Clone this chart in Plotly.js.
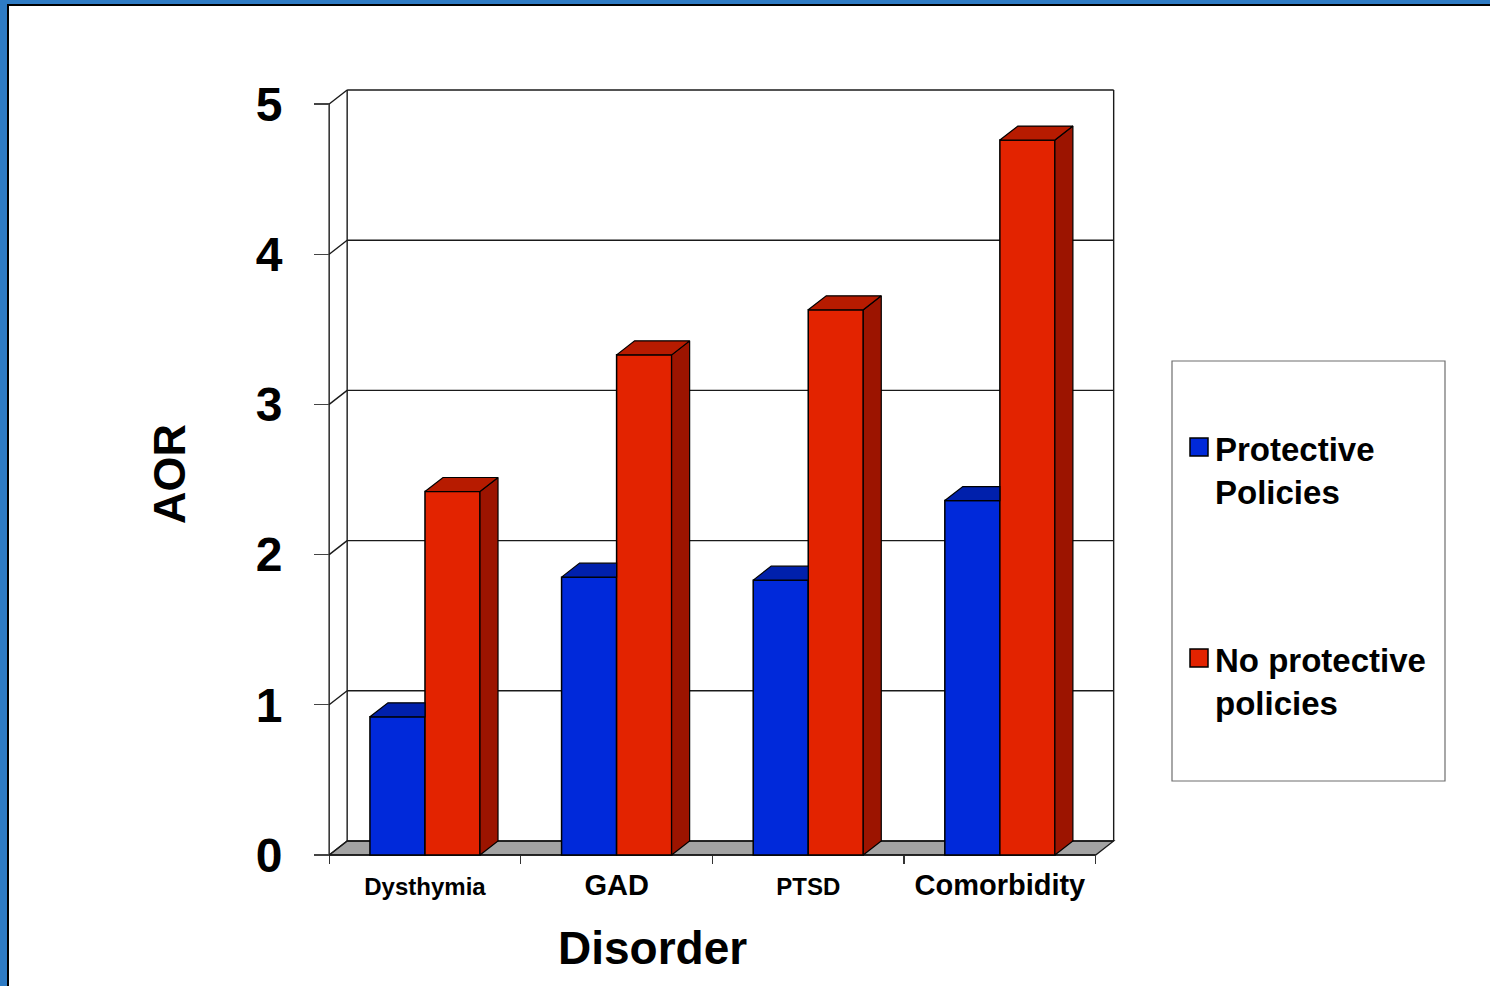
<!DOCTYPE html>
<html>
<head>
<meta charset="utf-8">
<script src="https://cdn.plot.ly/plotly-3.0.1.min.js"></script>
<style>html,body{margin:0;padding:0;background:#fff;}#chart{width:1490px;height:986px;}</style>
</head>
<body>
<div id="chart"></div>
<script>
// ---------- data ----------
const categories = ['Dysthymia', 'GAD', 'PTSD', 'Comorbidity'];
const protective = [0.92, 1.85, 1.83, 2.36];
const noProtective = [2.42, 3.33, 3.63, 4.76];
const yTicks = [0, 1, 2, 3, 4, 5];
const seriesNames = ['Protective<br>Policies', 'No protective<br>policies'];
const yTitle = 'AOR';
const xTitle = 'Disorder';

// ---------- styling / geometry ----------
const catLabelSizes = [24, 29, 24, 29];
const FONT = 'Liberation Sans, Arial, Helvetica, sans-serif';
const W = 1490, H = 986;
const ML = 310, MR = 356, MT = 74, MB = 116;
const PW = W - ML - MR, PH = H - MT - MB;
const XR = [-0.6, 3.7], YR = [-0.1, 5.2];
const pxX = PW / (XR[1] - XR[0]), pxY = PH / (YR[1] - YR[0]);
const DX = 18 / pxX, DY = 14 / pxY;      // depth offset of the 3-D look
const BW = 0.2872;                        // bar width (x units)
const X0 = -0.5, X1 = categories.length - 0.5;
const YMAX = yTicks[yTicks.length - 1];

const blueFront = '#0029DA', blueTop = '#0020AC';
const redFront = '#E32300', redTop = '#B71B00', redSide = '#9C1400';
const floorGray = '#A3A3A3', frameCol = '#1a1a1a';

const px2paperX = p => (p - ML) / PW;
const px2paperY = p => (H - MB - p) / PH;

const idx = categories.map((c, i) => i);

// ---------- frame (floor, back wall, grid) as below-layer shapes ----------
const shapes = [];
// page
shapes.push({type: 'rect', xref: 'paper', yref: 'paper', layer: 'below',
  x0: px2paperX(8), x1: px2paperX(1520), y0: px2paperY(1020), y1: px2paperY(5),
  fillcolor: '#ffffff', line: {color: '#000000', width: 2}});
// floor
shapes.push({type: 'path', xref: 'x', yref: 'y', layer: 'below',
  path: `M${X0},0 L${X1},0 L${X1 + DX},${DY} L${X0 + DX},${DY} Z`,
  fillcolor: floorGray, line: {color: frameCol, width: 1.3}});
const seg = (xa, ya, xb, yb) => shapes.push({type: 'line', xref: 'x', yref: 'y', layer: 'below',
  x0: xa, y0: ya, x1: xb, y1: yb, line: {color: frameCol, width: 1.4}});
yTicks.forEach(v => {
  seg(X0 + DX, v + DY, X1 + DX, v + DY);   // back-wall grid line
  seg(X0, v, X0 + DX, v + DY);             // side-wall diagonal
});
seg(X0, 0, X0, YMAX);                      // front value axis
seg(X0 + DX, DY, X0 + DX, YMAX + DY);      // back-wall left edge
seg(X1 + DX, DY, X1 + DX, YMAX + DY);      // back-wall right edge
seg(X0, 0, X1, 0);                         // front floor edge

// legend (manual, to match the boxed legend)
shapes.push({type: 'rect', xref: 'paper', yref: 'paper',
  x0: px2paperX(1172), x1: px2paperX(1445), y0: px2paperY(781), y1: px2paperY(361),
  fillcolor: 'rgba(0,0,0,0)', line: {color: '#6e6e6e', width: 1.2}});
shapes.push({type: 'rect', xref: 'paper', yref: 'paper',
  x0: px2paperX(1190), x1: px2paperX(1208), y0: px2paperY(456), y1: px2paperY(438),
  fillcolor: blueFront, line: {color: '#000', width: 1.5}});
shapes.push({type: 'rect', xref: 'paper', yref: 'paper',
  x0: px2paperX(1190), x1: px2paperX(1208), y0: px2paperY(667), y1: px2paperY(649),
  fillcolor: redFront, line: {color: '#000', width: 1.5}});

// ---------- 3-D faces from the values ----------
function polys(builder, vals) {
  const xs = [], ys = [];
  vals.forEach((v, i) => {
    const p = builder(i, v);
    p.x.forEach((xx, k) => { xs.push(xx); ys.push(p.y[k]); });
    xs.push(null); ys.push(null);
  });
  return {x: xs, y: ys};
}
const redSideP = polys((i, v) => ({
  x: [i + BW, i + BW, i + BW + DX, i + BW + DX, i + BW],
  y: [0, v, v + DY, DY, 0]}), noProtective);
const redTopP = polys((i, v) => ({
  x: [i, i + BW, i + BW + DX, i + DX, i],
  y: [v, v, v + DY, v + DY, v]}), noProtective);
const blueTopP = polys((i, v) => ({
  x: [i - BW, i, i, i - BW + DX, i - BW],
  y: [v, v, v + DY, v + DY, v]}), protective);

const faceTrace = (p, col) => ({type: 'scatter', mode: 'lines', x: p.x, y: p.y,
  fill: 'toself', fillcolor: col, line: {color: '#000', width: 1.2},
  hoverinfo: 'skip', showlegend: false, connectgaps: false});

const traces = [
  {type: 'bar', name: seriesNames[0], x: idx, y: protective, offset: -BW, width: BW,
   marker: {color: blueFront, line: {color: '#000', width: 1.5}}, showlegend: false},
  {type: 'bar', name: seriesNames[1], x: idx, y: noProtective, offset: 0, width: BW,
   marker: {color: redFront, line: {color: '#000', width: 1.5}}, showlegend: false},
  faceTrace(blueTopP, blueTop),
  faceTrace(redSideP, redSide),
  faceTrace(redTopP, redTop)
];

const layout = {
  width: W, height: H,
  margin: {l: ML, r: MR, t: MT, b: MB, pad: 0},
  paper_bgcolor: '#2E7BC4',
  plot_bgcolor: 'rgba(0,0,0,0)',
  barmode: 'overlay',
  showlegend: false,
  font: {family: FONT, color: '#000'},
  xaxis: {
    range: XR, anchor: 'free', position: (0 - YR[0]) / (YR[1] - YR[0]),
    showgrid: false, zeroline: false, showline: false,
    tickmode: 'array', tickvals: idx,
    ticktext: categories.map((c, i) => `<span style="font-size:${catLabelSizes[i]}px">${c}</span>`),
    ticks: '', ticklabelstandoff: 10,
    tickfont: {family: FONT, size: 29, weight: 700, color: '#000'},
    minor: {ticks: 'outside', ticklen: 8, tickwidth: 1.2, tickcolor: '#333',
            tick0: -0.5, dtick: 1, showgrid: false},
    fixedrange: true
  },
  yaxis: {
    range: YR, anchor: 'free', position: (X0 - XR[0]) / (XR[1] - XR[0]),
    showgrid: false, zeroline: false, showline: false,
    tickmode: 'array', tickvals: yTicks, ticktext: yTicks.map(String),
    ticks: 'outside', ticklen: 15, tickwidth: 1.2, tickcolor: '#444',
    ticklabelstandoff: 22,
    tickfont: {family: FONT, size: 48, weight: 700, color: '#000'},
    fixedrange: true
  },
  shapes: shapes,
  annotations: [
    {xref: 'paper', yref: 'paper', x: px2paperX(170), y: px2paperY(474),
     text: yTitle, textangle: -90, showarrow: false, xanchor: 'center', yanchor: 'middle',
     font: {family: FONT, size: 45, weight: 700, color: '#000'}},
    {xref: 'paper', yref: 'paper', x: px2paperX(652.5), y: px2paperY(947.5),
     text: xTitle, showarrow: false, xanchor: 'center', yanchor: 'middle',
     font: {family: FONT, size: 46, weight: 700, color: '#000'}},
    {xref: 'paper', yref: 'paper', x: px2paperX(1213), y: px2paperY(470.8),
     text: seriesNames[0], showarrow: false, xanchor: 'left', yanchor: 'middle', align: 'left',
     font: {family: FONT, size: 33, weight: 700, color: '#000'}},
    {xref: 'paper', yref: 'paper', x: px2paperX(1213), y: px2paperY(681.8),
     text: seriesNames[1], showarrow: false, xanchor: 'left', yanchor: 'middle', align: 'left',
     font: {family: FONT, size: 33, weight: 700, color: '#000'}}
  ]
};

Plotly.newPlot('chart', traces, layout, {displayModeBar: false, staticPlot: true});
</script>
</body>
</html>
